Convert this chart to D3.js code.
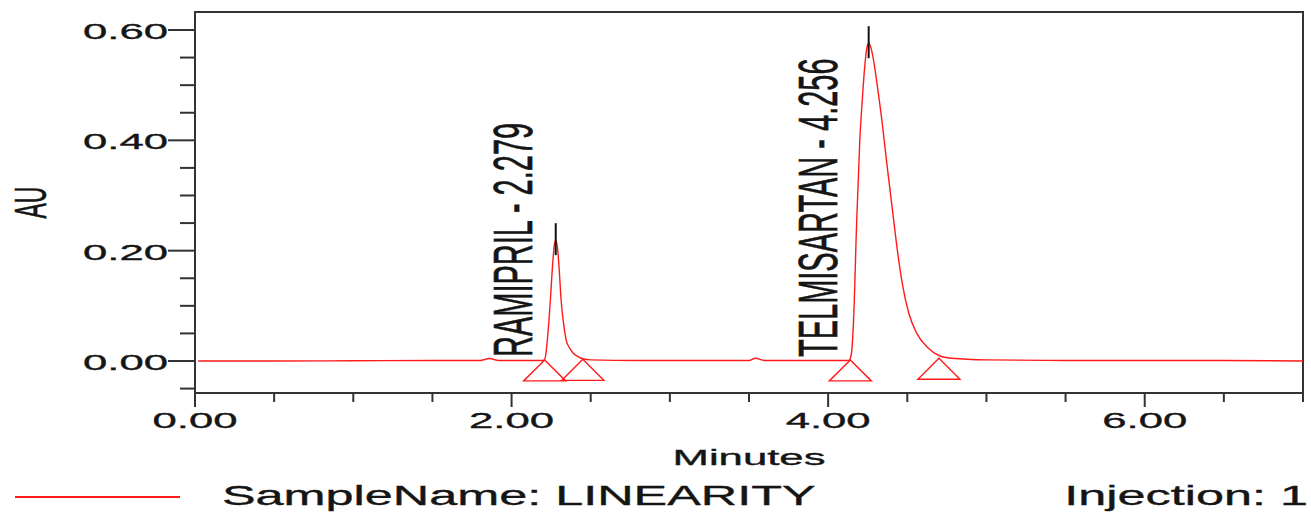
<!DOCTYPE html>
<html>
<head>
<meta charset="utf-8">
<script src="https://cdn.jsdelivr.net/npm/d3@7"></script>
<style>
  html, body { margin: 0; padding: 0; background: #fff; }
  svg { display: block; }
  text { font-family: "Liberation Sans", Arial, sans-serif; fill: #151515; stroke: #151515; stroke-width: 0.35; }
</style>
</head>
<body>
<div id="chart"></div>
<script>
//Data
var traceTime = [0.02, 0.5, 1.0, 1.5, 1.80, 1.86, 1.92, 2.10, 2.20, 2.212, 2.226, 2.245, 2.258, 2.27, 2.279,
    2.29, 2.30, 2.313, 2.33, 2.345, 2.37, 2.39, 2.42, 2.45, 2.50, 2.80, 3.20, 3.50, 3.54, 3.60, 4.05,
    4.13, 4.145, 4.16, 4.18, 4.20, 4.215, 4.23, 4.245, 4.256, 4.27, 4.29, 4.31, 4.34, 4.37, 4.41, 4.44,
    4.47, 4.51, 4.56, 4.63, 4.70, 4.78, 5.00, 5.50, 6.00, 6.50, 7.00];
var traceAU = [0.000, 0.000, 0.0005, 0.001, 0.001, 0.0045, 0.001, 0.001, 0.001, 0.005, 0.038, 0.110, 0.170, 0.210, 0.219,
    0.205, 0.170, 0.110, 0.065, 0.038, 0.022, 0.014, 0.008, 0.004, 0.002, 0.001, 0.001, 0.001, 0.005, 0.001, 0.001,
    0.001, 0.010, 0.070, 0.250, 0.400, 0.470, 0.530, 0.568, 0.576, 0.568, 0.540, 0.500, 0.435, 0.360, 0.265, 0.195,
    0.138, 0.086, 0.050, 0.024, 0.010, 0.005, 0.002, 0.001, 0.001, 0.001, 0.000];

var peakNames = ["RAMIPRIL", "TELMISARTAN"];
var peakRT = [2.279, 4.256];
var peakApexAU = [0.219, 0.576];
var peakStart = [2.209, 4.14];

var markerTime = [2.209, 2.45, 4.14, 4.70];
var markerAU = [0.002, 0.003, 0.002, 0.005];

var xMajorTicks = [0, 2, 4, 6];
var xMinorTicks = [0.5, 1, 1.5, 2.5, 3, 3.5, 4.5, 5, 5.5, 6.5, 7];
var yMajorTicks = [0, 0.2, 0.4, 0.6];
var yMinorTicks = [-0.05, 0.05, 0.1, 0.15, 0.25, 0.3, 0.35, 0.45, 0.5, 0.55];

var xLabel = "Minutes";
var yLabel = "AU";
var sampleText = "SampleName: LINEARITY";
var injectionText = "Injection: 1";

//Setup
var width = 1311, height = 513;
var plot = { left: 195, right: 1303, top: 12, bottom: 393 };
var stretch = 1.9;
var traceColor = "#ff1a1a";
var axisColor = "#333";

var x = d3.scaleLinear().domain([0, 7]).range([plot.left, plot.right]);
var y = d3.scaleLinear().domain([-0.058, 0.6326]).range([plot.bottom, plot.top]);
var tickFormat = d3.format(".2f");

var svg = d3.select("#chart")
    .append("svg")
    .attr("width", width)
    .attr("height", height);

svg.append("defs").append("clipPath")
    .attr("id", "plot-clip")
    .append("rect")
    .attr("x", plot.left)
    .attr("y", plot.top)
    .attr("width", plot.right - plot.left)
    .attr("height", plot.bottom - plot.top);

//Frame
svg.append("rect")
    .attr("x", plot.left)
    .attr("y", plot.top)
    .attr("width", plot.right - plot.left)
    .attr("height", plot.bottom - plot.top)
    .attr("fill", "none")
    .attr("stroke", axisColor)
    .attr("stroke-width", 2);

//X axis ticks
svg.append("g").selectAll("line.xmaj")
    .data(xMajorTicks).enter().append("line")
    .attr("x1", d => x(d)).attr("x2", d => x(d))
    .attr("y1", plot.bottom).attr("y2", plot.bottom + 14)
    .attr("stroke", axisColor).attr("stroke-width", 2);
svg.append("g").selectAll("line.xmin")
    .data(xMinorTicks).enter().append("line")
    .attr("x1", d => x(d)).attr("x2", d => x(d))
    .attr("y1", plot.bottom).attr("y2", plot.bottom + 9)
    .attr("stroke", axisColor).attr("stroke-width", 2);
svg.append("g").selectAll("text")
    .data(xMajorTicks).enter().append("text")
    .attr("transform", d => `translate(${x(d)}, 428) scale(${stretch}, 1)`)
    .attr("text-anchor", "middle")
    .style("font-size", "23px")
    .text(d => tickFormat(d));

//Y axis ticks
svg.append("g").selectAll("line")
    .data(yMajorTicks).enter().append("line")
    .attr("x1", plot.left - 27).attr("x2", plot.left)
    .attr("y1", d => y(d)).attr("y2", d => y(d))
    .attr("stroke", axisColor).attr("stroke-width", 2);
svg.append("g").selectAll("line")
    .data(yMinorTicks).enter().append("line")
    .attr("x1", plot.left - 15).attr("x2", plot.left)
    .attr("y1", d => y(d)).attr("y2", d => y(d))
    .attr("stroke", axisColor).attr("stroke-width", 2);
svg.append("g").selectAll("text")
    .data(yMajorTicks).enter().append("text")
    .attr("transform", d => `translate(${plot.left - 27}, ${y(d) + 9}) scale(${stretch}, 1)`)
    .attr("text-anchor", "end")
    .style("font-size", "23px")
    .text(d => tickFormat(d));

//Axis titles
svg.append("text")
    .attr("transform", `translate(${(plot.left + plot.right) / 2}, 465) scale(${stretch}, 1)`)
    .attr("text-anchor", "middle")
    .style("font-size", "23px")
    .text(xLabel);
svg.append("text")
    .attr("transform", `translate(46, ${(plot.top + plot.bottom) / 2}) scale(${stretch}, 1) rotate(-90)`)
    .attr("text-anchor", "middle")
    .style("font-size", "23px")
    .text(yLabel);

//Trace
var line = d3.line()
    .x((d, i) => x(traceTime[i]))
    .y((d, i) => y(traceAU[i]))
    .curve(d3.curveMonotoneX);

svg.append("path")
    .attr("clip-path", "url(#plot-clip)")
    .attr("fill", "none")
    .attr("stroke", traceColor)
    .attr("stroke-width", 1.4)
    .attr("d", line(traceTime));

//Integration markers
svg.append("g").selectAll("path")
    .data(markerTime).enter().append("path")
    .attr("fill", "none")
    .attr("stroke", traceColor)
    .attr("stroke-width", 1.4)
    .attr("d", (d, i) => {
        var px = x(d), py = y(markerAU[i]);
        return `M${px},${py}L${px - 21},${py + 21}L${px + 21},${py + 21}Z`;
    });

//Apex markers
svg.append("g").selectAll("line")
    .data(peakRT).enter().append("line")
    .attr("x1", d => x(d)).attr("x2", d => x(d))
    .attr("y1", (d, i) => y(peakApexAU[i]) - 17)
    .attr("y2", (d, i) => y(peakApexAU[i]) + 15)
    .attr("stroke", "#111")
    .attr("stroke-width", 2);

//Peak labels
svg.append("g").selectAll("text")
    .data(peakNames).enter().append("text")
    .attr("transform", (d, i) => `translate(${x(peakStart[i]) - 13}, ${y(0) - 4}) scale(${stretch}, 1) rotate(-90)`)
    .attr("text-anchor", "start")
    .style("font-size", "29px")
    .text((d, i) => d + " - " + d3.format(".3f")(peakRT[i]));

//Legend
svg.append("line")
    .attr("x1", 15).attr("x2", 180)
    .attr("y1", 497).attr("y2", 497)
    .attr("stroke", traceColor)
    .attr("stroke-width", 2);
svg.append("text")
    .attr("transform", `translate(222, 505) scale(1.8, 1)`)
    .style("font-size", "28px")
    .text(sampleText);
svg.append("text")
    .attr("transform", `translate(1308, 505) scale(1.8, 1)`)
    .attr("text-anchor", "end")
    .style("font-size", "28px")
    .text(injectionText);
</script>
</body>
</html>
